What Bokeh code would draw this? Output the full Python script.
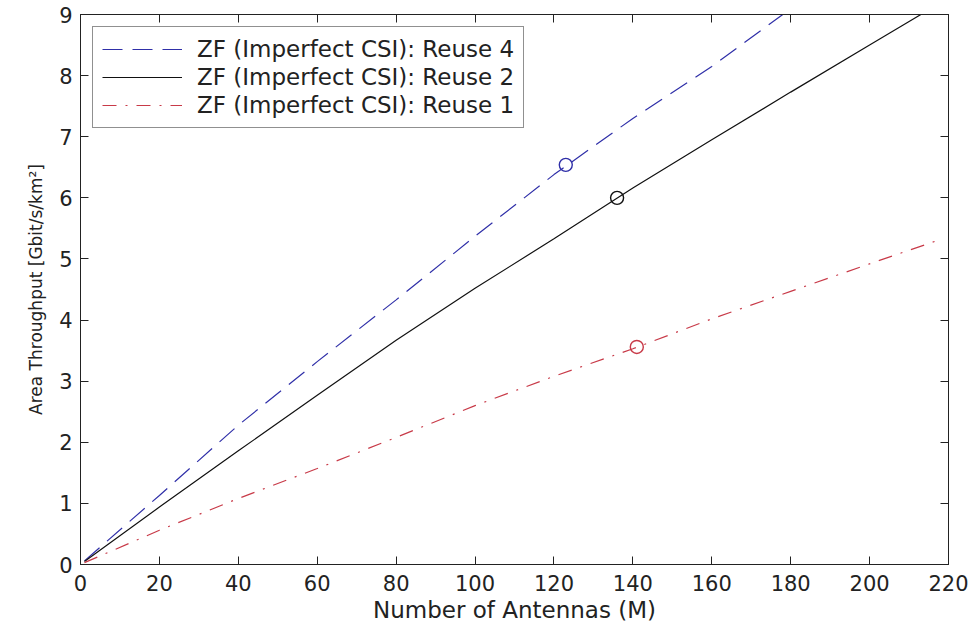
from bokeh.plotting import figure
from bokeh.models import LinearAxis, Range1d, Legend, LegendItem, FixedTicker
from bokeh.embed import file_html
from bokeh.resources import INLINE

# ---- data ----
x_reuse4 = [1, 20, 40, 60, 80, 100, 120, 140, 160, 178]
y_reuse4 = [0.06, 1.13, 2.28, 3.32, 4.33, 5.37, 6.38, 7.30, 8.15, 9.00]

x_reuse2 = [1, 20, 40, 60, 80, 100, 120, 140, 160, 180, 200, 213]
y_reuse2 = [0.05, 0.94, 1.86, 2.77, 3.67, 4.52, 5.33, 6.16, 6.95, 7.73, 8.50, 9.00]

x_reuse1 = [1, 20, 40, 60, 80, 100, 120, 140, 160, 180, 200, 218]
y_reuse1 = [0.03, 0.56, 1.08, 1.57, 2.08, 2.60, 3.08, 3.53, 4.02, 4.47, 4.92, 5.32]

marker_x = [123, 136, 141]
marker_y = [6.54, 6.00, 3.56]

labels = ["ZF (Imperfect CSI): Reuse 4",
          "ZF (Imperfect CSI): Reuse 2",
          "ZF (Imperfect CSI): Reuse 1"]

x_ticks = list(range(0, 221, 20))
y_ticks = list(range(0, 10))

FONT = "DejaVu Sans"
TXT = "#222222"
BLUE = "#2f2fa8"
BLACK = "#111111"
RED = "#c83a48"

p = figure(width=970, height=625, output_backend="svg", toolbar_location=None,
           x_range=Range1d(0, 220), y_range=Range1d(0, 9),
           min_border_left=80, min_border_right=22, min_border_top=14,
           min_border_bottom=61)
p.background_fill_color = "white"
p.border_fill_color = "white"
p.outline_line_color = "#222222"
p.outline_line_width = 1
p.xgrid.visible = False
p.ygrid.visible = False


def style_axis(ax, ticks, show_labels=True):
    ax.ticker = FixedTicker(ticks=ticks)
    ax.major_tick_in = 8
    ax.major_tick_out = 0
    ax.minor_tick_line_color = None
    ax.axis_line_color = "#222222"
    ax.major_tick_line_color = "#222222"
    ax.major_label_text_font = FONT
    ax.major_label_text_color = TXT
    if show_labels:
        ax.major_label_text_font_size = "21px"
    else:
        ax.major_label_text_font_size = "1px"
        ax.major_label_text_color = None
        ax.major_label_standoff = 0


style_axis(p.xaxis[0], x_ticks)
style_axis(p.yaxis[0], y_ticks)
p.xaxis[0].major_label_standoff = 10
p.yaxis[0].major_label_standoff = 8

p.xaxis[0].axis_label = "Number of Antennas (M)"
p.xaxis[0].axis_label_text_font = FONT
p.xaxis[0].axis_label_text_font_size = "23px"
p.xaxis[0].axis_label_text_font_style = "normal"
p.xaxis[0].axis_label_text_color = TXT
p.xaxis[0].axis_label_standoff = 3

p.yaxis[0].axis_label = "Area Throughput [Gbit/s/km²]"
p.yaxis[0].axis_label_text_font = FONT
p.yaxis[0].axis_label_text_font_size = "17px"
p.yaxis[0].axis_label_text_font_style = "normal"
p.yaxis[0].axis_label_text_color = TXT
p.yaxis[0].axis_label_standoff = 10

top_ax = LinearAxis()
style_axis(top_ax, x_ticks, show_labels=False)
p.add_layout(top_ax, "above")
right_ax = LinearAxis()
style_axis(right_ax, y_ticks, show_labels=False)
p.add_layout(right_ax, "right")

r4 = p.line(x_reuse4, y_reuse4, line_color=BLUE, line_width=1.2, line_dash="20 10")
r2 = p.line(x_reuse2, y_reuse2, line_color=BLACK, line_width=1.2)
r1 = p.line(x_reuse1, y_reuse1, line_color=RED, line_width=1.2, line_dash="14 9 2 9")

p.scatter(marker_x, marker_y, marker="circle", size=13, fill_color=None,
          line_color=[BLUE, BLACK, RED], line_width=1.4)

legend = Legend(items=[LegendItem(label=labels[0], renderers=[r4]),
                       LegendItem(label=labels[1], renderers=[r2]),
                       LegendItem(label=labels[2], renderers=[r1])],
                location="top_left")
legend.margin = 12
legend.padding = 9
legend.spacing = 2
legend.label_height = 26
legend.glyph_height = 26
legend.glyph_width = 80
legend.label_standoff = 15
legend.label_text_font = FONT
legend.label_text_font_size = "23px"
legend.label_text_color = TXT
legend.border_line_color = "#222222"
legend.border_line_width = 1
legend.background_fill_color = "white"
legend.background_fill_alpha = 1.0
p.add_layout(legend, "center")

open("out.html", "w").write(file_html(p, INLINE))
